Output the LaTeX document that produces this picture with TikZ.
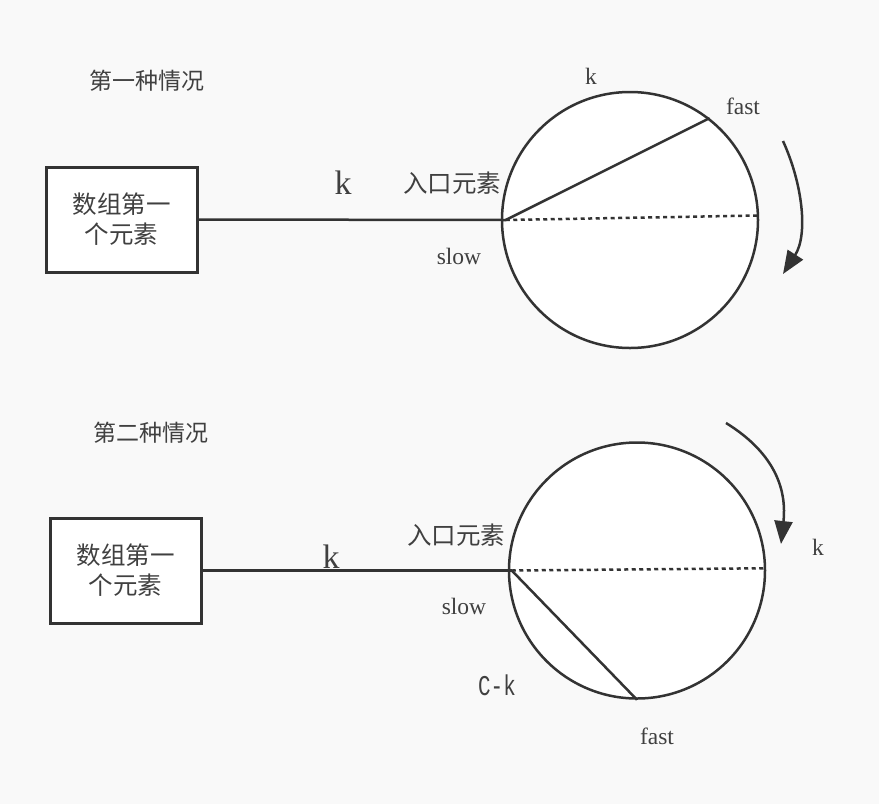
\documentclass[tikz,border=0pt]{standalone}
\usepackage{fontspec}
\usepackage{graphicx}
\setmainfont{Liberation Serif}
\newfontfamily\cjk{Noto Sans CJK SC}
\newfontfamily\monof{Liberation Mono}
\usetikzlibrary{arrows.meta}
\definecolor{bg}{HTML}{F9F9F9}
\definecolor{ink}{HTML}{333333}
\definecolor{txt}{HTML}{404040}
\tikzset{
  arraybox/.style={draw=ink, line width=3pt, fill=white, minimum width=151pt, minimum height=105pt, inner sep=0pt, align=center, text=txt, font=\cjk\fontsize{24.5}{30}\selectfont},
  ring/.style={draw=ink, line width=2.5pt, fill=white, circle, minimum size=256pt, inner sep=0pt},
  link/.style={draw=ink, line width=2.5pt},
  dotline/.style={draw=ink, line width=2.5pt, dash pattern=on 4pt off 3.5pt},
  turn/.style={draw=ink, line width=2.5pt, -{Triangle[length=23pt,width=18pt]}},
  cntext/.style={text=txt, inner sep=0pt, font=\cjk\fontsize{23}{26}\selectfont},
  entext/.style={text=txt, inner sep=0pt, font=\cjk\fontsize{24.5}{28}\selectfont},
  lbl/.style={text=txt, inner sep=0pt, font=\fontsize{23.5}{27}\selectfont},
  bigk/.style={text=txt, inner sep=0pt, font=\fontsize{34}{37}\selectfont},
}
\begin{document}
\begin{tikzpicture}[x=1pt,y=-1pt]
\useasboundingbox[fill=bg] (0,0) rectangle (879,804);
% ---------- case 1 ----------
\node[cntext] (t1) at (147,81) {第一种情况};
\node[arraybox] (b1) at (121.5,219.5) {数组第一\\个元素};
\node[ring] (c1) at (630,220) {};
\coordinate (p1) at ([xshift=5pt]c1.west);
\draw[link] (b1.east) -- (p1);
\draw[link] (p1) -- (c1.52);
\draw[dotline] (p1) -- (c1.2);
\node[bigk] (k1) at (343,183) {k};
\node[entext] (e1) at (452,183) {入口元素};
\node[lbl] (s1) at (459,256) {slow};
\node[lbl] (kt1) at (591,76) {k};
\node[lbl] (f1) at (743,106) {fast};
\coordinate (a1s) at (783,141);
\coordinate (a1e) at (783,274);
\draw[turn] (a1s) .. controls (803,185) and (808,235) .. (a1e);
% ---------- case 2 ----------
\node[cntext] (t2) at (151,433) {第二种情况};
\node[arraybox] (b2) at (125.5,570.5) {数组第一\\个元素};
\node[ring] (c2) at (637,570.5) {};
\coordinate (p2) at ([xshift=4pt]c2.west);
\draw[link] (b2.east) -- (p2);
\draw[link] (p2) -- (c2.-90);
\draw[dotline] (p2) -- (c2.1.5);
\node[bigk] (k2) at (331,557) {k};
\node[entext] (e2) at (456,535) {入口元素};
\node[lbl] (s2) at (464,606) {slow};
\node[text=txt, inner sep=0pt, font=\monof\fontsize{22}{24}\selectfont] (ck) at (497,685) {\scalebox{0.95}[1.3]{C-k}};
\node[lbl] (f2) at (657,736) {fast};
\node[lbl] (kr2) at (818,547) {k};
\coordinate (a2s) at (726,423);
\coordinate (a2e) at (781,544);
\draw[turn] (a2s) .. controls (765,447) and (788,480) .. (a2e);
\end{tikzpicture}
\end{document}
